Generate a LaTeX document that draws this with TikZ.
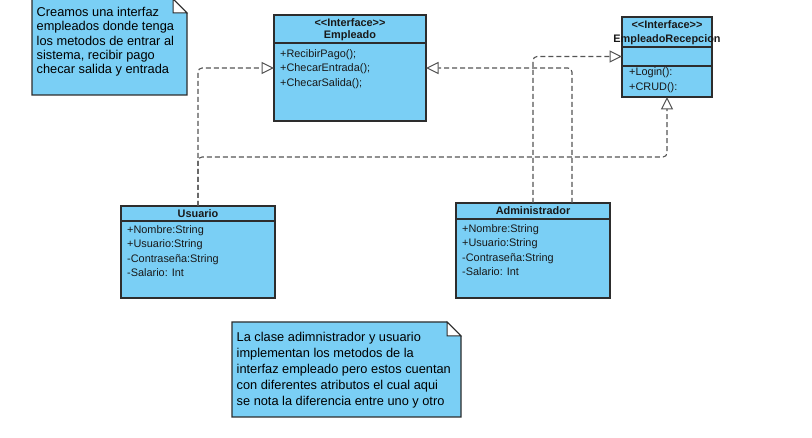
\documentclass[tikz,border=0pt]{standalone}
\usepackage{fontspec}
\setmainfont{Liberation Sans}
\usetikzlibrary{arrows.meta,calc}
\definecolor{umlfill}{RGB}{122,207,245}
\definecolor{umlline}{RGB}{45,45,45}
\definecolor{dashc}{RGB}{85,85,85}
\newcommand{\stereo}[1]{{<}{<}#1{>}{>}}
\begin{document}
\begin{tikzpicture}[x=1pt,y=-1pt,
  box/.style={draw=umlline,fill=umlfill,line width=1.2pt,inner sep=0pt,outer sep=0pt,anchor=north west},
  frame/.style={inner sep=0pt,outer sep=0pt,anchor=north west},
  item/.style={font=\fontsize{10.9}{13}\selectfont,text=black!90,inner sep=0pt,anchor=base west},
  ttl/.style={font=\fontsize{10.9}{13}\selectfont\bfseries,text=black!90,inner sep=0pt,anchor=base},
  ntxt/.style={font=\fontsize{12.8}{15}\selectfont,text=black,inner sep=0pt,anchor=base west},
  notebox/.style={draw=umlline,fill=umlfill,line width=1.2pt,line join=miter},
  fold/.style={draw=umlline,fill=white,line width=1pt},
  real/.style={draw=dashc,line width=1.1pt,dash pattern=on 5pt off 3pt,rounded corners=4pt,
    -{Triangle[length=12.5pt,width=12pt,fill=white,line width=1pt]}},
]
\useasboundingbox[fill=white] (0,0) rectangle (812,438);

% ---------- Note 1 ----------
\draw[notebox] (32,-1) -- (173,-1) -- (187,13) -- (187,95) -- (32,95) -- cycle;
\draw[fold] (173,-1) -- (187,13) -- (173,13) -- cycle;
\node[ntxt] (n1a) at (36.5,16.5) {Creamos una interfaz};
\node[ntxt] (n1b) at (36.5,30.8) {empleados donde tenga};
\node[ntxt] (n1c) at (36.5,45.1) {los metodos de entrar al};
\node[ntxt] (n1d) at (36.5,59.4) {sistema, recibir pago};
\node[ntxt] (n1e) at (36.5,73.7) {checar salida y entrada};

% ---------- Note 2 ----------
\draw[notebox] (232,322) -- (447,322) -- (461,336) -- (461,417) -- (232,417) -- cycle;
\draw[fold] (447,322) -- (461,336) -- (447,336) -- cycle;
\node[ntxt] (n2a) at (236.5,342) {La clase adimnistrador y usuario};
\node[ntxt] (n2b) at (236.5,357.9) {implementan los metodos de la};
\node[ntxt] (n2c) at (236.5,373.8) {interfaz empleado pero estos cuentan};
\node[ntxt] (n2d) at (236.5,389.7) {con diferentes atributos el cual aqui};
\node[ntxt] (n2e) at (236.5,405.5) {se nota la diferencia entre uno y otro};

% ---------- Empleado ----------
\node[frame,minimum width=152pt,minimum height=106pt] (emp) at (274,15) {};
\node[box,minimum width=152pt,minimum height=28pt] (empH) at (274,15) {};
\node[box,minimum width=152pt,minimum height=78pt] (empB) at (274,43) {};
\node[ttl] (empT1) at (350,26.2) {\stereo{Interface}};
\node[ttl] (empT2) at (350,38.5) {Empleado};
\node[item] (emp1) at (280,57.5) {+RecibirPago();};
\node[item] (emp2) at (280,72) {+ChecarEntrada();};
\node[item] (emp3) at (280,86.5) {+ChecarSalida();};

% ---------- EmpleadoRecepcion ----------
\node[frame,minimum width=90pt,minimum height=80pt] (rec) at (622,17) {};
\node[box,minimum width=90pt,minimum height=30pt] (recH) at (622,17) {};
\node[box,minimum width=90pt,minimum height=19pt] (recA) at (622,47) {};
\node[box,minimum width=90pt,minimum height=31pt] (recO) at (622,66) {};
\node[ttl] (recT1) at (667,28.5) {\stereo{Interface}};
\node[ttl] (recT2) at (667,42.8) {EmpleadoRecepcion};
\node[item] (rec1) at (629,76) {+Login():};
\node[item] (rec2) at (629,90.5) {+CRUD():};

% ---------- Usuario ----------
\node[frame,minimum width=154pt,minimum height=92pt] (usu) at (121,206) {};
\node[box,minimum width=154pt,minimum height=15pt] (usuH) at (121,206) {};
\node[box,minimum width=154pt,minimum height=77pt] (usuB) at (121,221) {};
\node[ttl] (usuT) at (198,217.3) {Usuario};
\node[item] (usu1) at (127,233.5) {+Nombre:String};
\node[item] (usu2) at (127,248) {+Usuario:String};
\node[item] (usu3) at (127,262.3) {-Contraseña:String};
\node[item] (usu4) at (127,276.7) {-Salario: Int};

% ---------- Administrador ----------
\node[frame,minimum width=154pt,minimum height=95pt] (adm) at (456,203) {};
\node[box,minimum width=154pt,minimum height=16pt] (admH) at (456,203) {};
\node[box,minimum width=154pt,minimum height=79pt] (admB) at (456,219) {};
\node[ttl] (admT) at (533,214.7) {Administrador};
\node[item] (adm1) at (462,232.5) {+Nombre:String};
\node[item] (adm2) at (462,247) {+Usuario:String};
\node[item] (adm3) at (462,261.3) {-Contraseña:String};
\node[item] (adm4) at (462,275.5) {-Salario: Int};

% ---------- Realizations ----------
\coordinate (lvl) at (0,157);
\coordinate (a3) at ($(adm.north)+(39,0)$);
\draw[real] (usu.north) |- (emp.west);
\draw[real] (usu.north) -- (usu.north |- lvl) -- (rec.south |- lvl) -- (rec.south);
\draw[real] (a3) |- (emp.east);
\draw[real] (adm.north) |- (recA.west);
\end{tikzpicture}
\end{document}
